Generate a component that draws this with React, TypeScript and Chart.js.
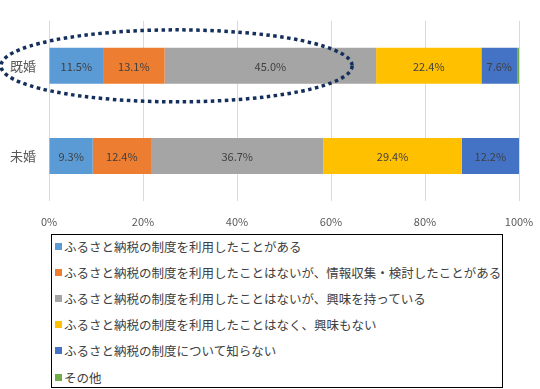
import React, { useEffect, useRef } from "react";
import { Chart, registerables } from "chart.js";
Chart.register(...registerables);

const categories = ["既婚", "未婚"];
const seriesNames = [
  "ふるさと納税の制度を利用したことがある",
  "ふるさと納税の制度を利用したことはないが、情報収集・検討したことがある",
  "ふるさと納税の制度を利用したことはないが、興味を持っている",
  "ふるさと納税の制度を利用したことはなく、興味もない",
  "ふるさと納税の制度について知らない",
  "その他",
];
const seriesColors = ["#5B9BD5", "#ED7D31", "#A5A5A5", "#FFC000", "#4472C4", "#70AD47"];
const usedValues = [11.5, 9.3];
const researchedValues = [13.1, 12.4];
const interestedValues = [45.0, 36.7];
const notInterestedValues = [22.4, 29.4];
const unawareValues = [7.6, 12.2];
const otherValues = [0.4, 0];
const xTickValues = [0, 20, 40, 60, 80, 100];
const highlightCategory = 0;
const highlightRightValue = 64.5;

const JP = '"Noto Sans CJK JP", "Noto Sans", sans-serif';

const labelPlugin = {
  id: "barLabels",
  afterDatasetsDraw(chart: any) {
    const ctx = chart.ctx;
    ctx.save();
    ctx.font = `11px ${JP}`;
    ctx.fillStyle = "#404040";
    ctx.textAlign = "center";
    ctx.textBaseline = "middle";
    chart.data.datasets.forEach((ds: any, i: number) => {
      const meta = chart.getDatasetMeta(i);
      meta.data.forEach((el: any, j: number) => {
        const v = ds.data[j];
        if (v < 1) return;
        const { x, base, y } = el.getProps(["x", "base", "y"], true);
        ctx.fillText(v.toFixed(1) + "%", (x + base) / 2, y + 1);
      });
    });
    ctx.restore();
  },
};

const ellipsePlugin = {
  id: "highlightEllipse",
  afterDraw(chart: any) {
    const ctx = chart.ctx;
    const xs = chart.scales.x;
    const ys = chart.scales.y;
    const left = chart.chartArea.left - 48;
    const right = xs.getPixelForValue(highlightRightValue);
    const cy = ys.getPixelForValue(highlightCategory);
    ctx.save();
    ctx.beginPath();
    ctx.ellipse((left + right) / 2, cy, (right - left) / 2, 36, 0, 0, Math.PI * 2);
    ctx.lineWidth = 3.5;
    ctx.setLineDash([3.5, 3.5]);
    ctx.strokeStyle = "#142F5C";
    ctx.stroke();
    ctx.restore();
  },
};

export default function App() {
  const ref = useRef<HTMLCanvasElement>(null);
  useEffect(() => {
    const allValues = [usedValues, researchedValues, interestedValues, notInterestedValues, unawareValues, otherValues];
    const chart = new Chart(ref.current!, {
      type: "bar",
      data: {
        labels: categories,
        datasets: allValues.map((d, i) => ({
          label: seriesNames[i],
          data: d,
          backgroundColor: seriesColors[i],
          borderWidth: 0,
          barPercentage: 0.8,
          categoryPercentage: 0.5,
        })),
      },
      options: {
        indexAxis: "y",
        animation: false,
        responsive: false,
        maintainAspectRatio: false,
        layout: { padding: { top: 2, left: 0, right: 21, bottom: 0 } },
        plugins: { legend: { display: false }, tooltip: { enabled: false } },
        scales: {
          x: {
            stacked: true,
            min: 0,
            max: 100,
            afterBuildTicks: (s: any) => {
              s.ticks = xTickValues.map((v) => ({ value: v }));
            },
            afterFit: (s: any) => {
              s.height = 32;
              s.paddingLeft = 0;
              s.paddingRight = 0;
            },
            ticks: {
              color: "#595959",
              font: { size: 11, family: JP },
              padding: 14,
              callback: (v: any) => v + "%",
            },
            grid: { color: "#D9D9D9", drawTicks: false },
            border: { display: false },
          },
          y: {
            stacked: true,
            afterFit: (s: any) => {
              s.width = 49;
            },
            ticks: { color: "#595959", font: { size: 13, family: JP }, padding: 13 },
            grid: { display: false, drawTicks: false },
            border: { display: false },
          },
        },
      },
      plugins: [labelPlugin, ellipsePlugin],
    });
    return () => chart.destroy();
  }, []);

  return (
    <div style={{ position: "absolute", left: 0, top: 0, width: 540, height: 389, background: "#fff", overflow: "hidden" }}>
      <canvas ref={ref} width={540} height={233} style={{ position: "absolute", left: 0, top: 0 }} />
      <div
        style={{
          position: "absolute",
          left: 51,
          top: 234,
          width: 450,
          height: 152,
          border: "1px solid #000",
          fontFamily: JP,
          fontSize: 12.5,
          color: "#404040",
        }}
      >
        {seriesNames.map((n, i) => (
          <div key={i} style={{ position: "absolute", left: 3, top: 2 + i * 26.2, height: 18, display: "flex", alignItems: "center", whiteSpace: "nowrap" }}>
            <span style={{ display: "inline-block", width: 7, height: 7, background: seriesColors[i], marginRight: 2 }} />
            <span>{n}</span>
          </div>
        ))}
      </div>
    </div>
  );
}
